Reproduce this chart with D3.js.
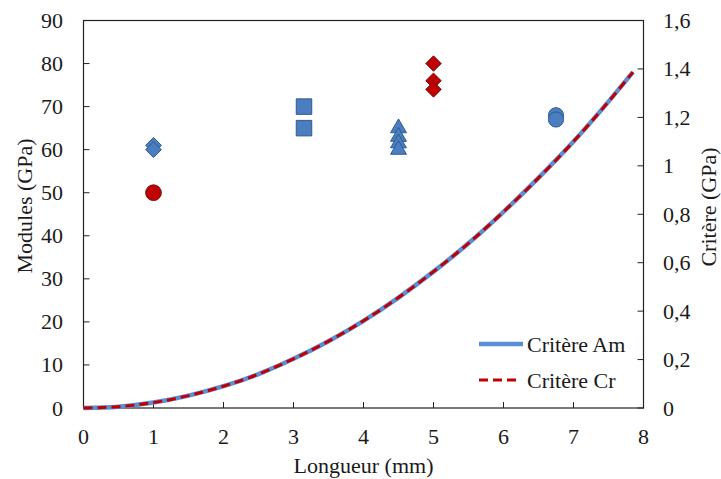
<!DOCTYPE html>
<html><head><meta charset="utf-8">
<script src="https://cdn.jsdelivr.net/npm/d3@7"></script>
<style>body{margin:0;background:#fff}svg{display:block}</style>
</head><body><svg id="c" width="721" height="479"></svg>
<script>
// Data
const xTicks = [0,1,2,3,4,5,6,7,8];
const yLeftTicks = [0,10,20,30,40,50,60,70,80,90];
const yRightTicks = [0,0.2,0.4,0.6,0.8,1,1.2,1.4,1.6];
const blueDiamonds = [[1,61],[1,60]];
const redCircles = [[1,50]];
const blueSquares = [[3.15,70],[3.15,65]];
const blueTriangles = [[4.5,65],[4.5,63],[4.5,61.5],[4.5,60]];
const redDiamonds = [[5,80],[5,76],[5,74]];
const blueCircles = [[6.75,68],[6.75,67]];
const curveX = [0,0.5,1,1.5,2,2.5,3,3.5,4,4.5,5,5.5,6,6.5,7,7.5,7.85];
const critereAm = [0,0.0056,0.0225,0.051,0.09,0.14,0.203,0.276,0.36,0.456,0.563,0.68,0.81,0.95,1.1,1.265,1.387];
const critereCr = [0,0.0056,0.0225,0.051,0.09,0.14,0.203,0.276,0.36,0.456,0.563,0.68,0.81,0.95,1.1,1.265,1.387];

const svg = d3.select("#c");
const L=83.5,R=643.5,T=20.5,B=408;
const x = d3.scaleLinear().domain([0,8]).range([L,R]);
const yL = d3.scaleLinear().domain([0,90]).range([B,T]);
const yR = d3.scaleLinear().domain([0,1.6]).range([B,T]);
const fs = 22;
const tc = "#1a1a1a";

// frame
svg.append("rect").attr("x",L).attr("y",T).attr("width",R-L).attr("height",B-T)
  .attr("fill","none").attr("stroke","#222").attr("stroke-width",1.2);

const fmtR = d => d3.format(".1~f")(d).replace(".",",");
xTicks.forEach(t=>{
  svg.append("line").attr("x1",x(t)).attr("x2",x(t)).attr("y1",B).attr("y2",B-6).attr("stroke","#222");
  svg.append("text").attr("x",x(t)).attr("y",B+36).attr("text-anchor","middle").text(t);
});
yLeftTicks.forEach(t=>{
  svg.append("line").attr("x1",L).attr("x2",L+6).attr("y1",yL(t)).attr("y2",yL(t)).attr("stroke","#222");
  svg.append("text").attr("x",63).attr("y",yL(t)+7.5).attr("text-anchor","end").text(t);
});
yRightTicks.forEach(t=>{
  svg.append("line").attr("x1",R).attr("x2",R-6).attr("y1",yR(t)).attr("y2",yR(t)).attr("stroke","#222");
  svg.append("text").attr("x",663).attr("y",yR(t)+7.5).attr("text-anchor","start").text(fmtR(t));
});

// titles
svg.append("text").attr("x",(L+R)/2).attr("y",473).attr("text-anchor","middle").text("Longueur (mm)");
svg.append("text").attr("transform",`translate(32,206) rotate(-90)`).attr("text-anchor","middle").text("Modules (GPa)");
svg.append("text").attr("transform",`translate(716,207) rotate(-90)`).attr("text-anchor","middle").text("Critère (GPa)");

// curves
const line = d3.line().x(d=>x(d[0])).y(d=>yR(d[1])).curve(d3.curveMonotoneX);
svg.append("path").datum(curveX.map((v,i)=>[v,critereAm[i]])).attr("d",line)
  .attr("fill","none").attr("stroke","#5B8ED3").attr("stroke-width",4.5);
svg.append("path").datum(curveX.map((v,i)=>[v,critereCr[i]])).attr("d",line)
  .attr("fill","none").attr("stroke","#C00000").attr("stroke-width",3).attr("stroke-dasharray","9,5");

// markers
const blueF="#4A7EBF", blueS="#2E5B93", redF="#C00000", redS="#6E1616";
function markers(data, type, fill, stroke, size){
  svg.selectAll(null).data(data).enter().append("path")
    .attr("transform",d=>`translate(${x(d[0])},${yL(d[1])})`)
    .attr("d",d3.symbol().type(type).size(size))
    .attr("fill",fill).attr("stroke",stroke).attr("stroke-width",1);
}
const diamond = {draw(ctx,size){const r=Math.sqrt(size/2);ctx.moveTo(0,-r);ctx.lineTo(r,0);ctx.lineTo(0,r);ctx.lineTo(-r,0);ctx.closePath();}};
markers(blueDiamonds, diamond, blueF, blueS, 125);
markers(redCircles, d3.symbolCircle, redF, redS, 195);
markers(blueSquares, d3.symbolSquare, blueF, blueS, 240);
markers(blueTriangles, d3.symbolTriangle, blueF, blueS, 110);
markers(redDiamonds, diamond, redF, redS, 120);
markers(blueCircles, d3.symbolCircle, blueF, blueS, 180);

// legend
svg.append("line").attr("x1",479).attr("x2",523).attr("y1",344).attr("y2",344).attr("stroke","#5B8ED3").attr("stroke-width",4.5);
svg.append("text").attr("x",527).attr("y",352).text("Critère Am");
svg.append("line").attr("x1",479).attr("x2",521).attr("y1",380).attr("y2",380).attr("stroke","#C00000").attr("stroke-width",3).attr("stroke-dasharray","9,5");
svg.append("text").attr("x",527).attr("y",388).text("Critère Cr");

svg.selectAll("text").style("font-family",'"Liberation Serif"').style("font-size",fs+"px").style("fill",tc);
</script></body></html>
